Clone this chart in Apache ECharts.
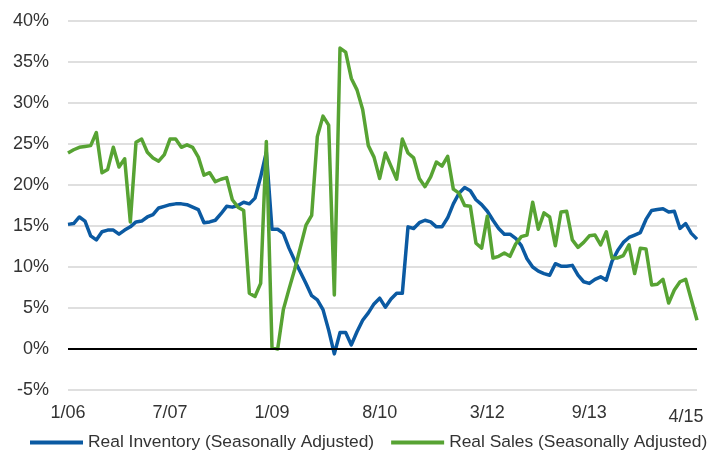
<!DOCTYPE html>
<html>
<head>
<meta charset="utf-8">
<script src="https://cdn.jsdelivr.net/npm/echarts@6/dist/echarts.min.js"></script>
<style>
  html, body { margin: 0; padding: 0; background: #fff; }
  #chart { width: 722px; height: 468px; }
</style>
</head>
<body>
<div id="chart"></div>
<script>
// months from 1/06 to 4/15
var months = [];
for (var y = 2006; y <= 2015; y++) {
  for (var m = 1; m <= 12; m++) {
    if (y === 2015 && m > 4) break;
    months.push(m + "/" + String(y).slice(2));
  }
}

var shownLabels = ["1/06", "7/07", "1/09", "8/10", "3/12", "9/13", "4/15"];

var inventory = [
  15.2, 15.3, 16.1, 15.6, 13.8, 13.3, 14.3, 14.5, 14.5, 14.0, 14.5, 14.9,
  15.5, 15.6, 16.1, 16.4, 17.2, 17.4, 17.6, 17.7, 17.7, 17.6, 17.3, 17.0,
  15.4, 15.5, 15.7, 16.5, 17.4, 17.3, 17.5, 17.9, 17.7, 18.4, 21.0, 24.0,
  14.6, 14.6, 14.1, 12.3, 10.8, 9.4, 8.0, 6.5, 6.0, 4.8, 2.3, -0.6,
  2.0, 2.0, 0.5, 2.1, 3.5, 4.4, 5.5, 6.2, 5.1, 6.1, 6.8, 6.8,
  14.9, 14.7, 15.4, 15.7, 15.5, 14.9, 14.9, 16.0, 17.7, 19.0, 19.7, 19.3,
  18.2, 17.6, 16.8, 15.7, 14.7, 14.0, 14.0, 13.5, 12.6, 11.0, 10.0, 9.5,
  9.2, 9.0, 10.4, 10.1, 10.1, 10.2, 9.0, 8.2, 8.0, 8.5, 8.8, 8.4,
  10.7, 12.0, 13.0, 13.6, 13.9, 14.2, 15.8, 16.9, 17.0, 17.1, 16.7, 16.8,
  14.7, 15.3, 14.1, 13.4
];

var sales = [
  23.9, 24.3, 24.6, 24.7, 24.8, 26.4, 21.5, 21.9, 24.6, 22.2, 23.2, 15.5,
  25.2, 25.6, 24.0, 23.3, 22.9, 23.7, 25.6, 25.6, 24.6, 24.9, 24.6, 23.4,
  21.2, 21.5, 20.4, 20.7, 20.9, 18.2, 17.3, 16.9, 6.8, 6.4, 8.0, 25.3,
  0.2, 0.0, 4.8, 7.3, 9.7, 12.4, 15.1, 16.3, 25.9, 28.4, 27.3, 6.6,
  36.7, 36.2, 33.0, 31.6, 29.2, 24.8, 23.4, 20.8, 23.9, 22.3, 20.7, 25.6,
  23.9, 23.3, 20.8, 19.8, 21.0, 22.8, 22.3, 23.5, 19.5, 19.0, 17.5, 17.4,
  12.9, 12.3, 16.2, 11.1, 11.3, 11.7, 11.3, 12.8, 13.7, 13.9, 17.9, 14.6,
  16.6, 16.1, 12.6, 16.7, 16.8, 13.3, 12.4, 13.0, 13.8, 13.9, 12.7, 14.3,
  11.1, 11.1, 11.4, 12.7, 9.2, 12.3, 12.2, 7.8, 7.9, 8.5, 5.6, 7.2,
  8.2, 8.5, 6.0, 3.5
];

var seriesNames = ["Real Inventory (Seasonally Adjusted)", "Real Sales (Seasonally Adjusted)"];
var colors = ["#0b5aa2", "#57a333"];
var FONT = "'Liberation Sans', Arial, sans-serif";

var chart = echarts.init(document.getElementById("chart"));

var option = {
  animation: false,
  color: colors,
  textStyle: { fontFamily: FONT },
  grid: { left: 68, right: 25, top: 21, bottom: 78 },
  legend: {
    data: seriesNames,
    left: 30,
    right: 0,
    top: 434,
    padding: 0,
    icon: "rect",
    itemWidth: 53,
    itemHeight: 4,
    itemGap: 17,
    textStyle: { fontFamily: FONT, fontSize: 17.4, color: "#333" }
  },
  xAxis: {
    type: "category",
    data: months,
    boundaryGap: false,
    axisLine: { show: false },
    axisTick: { show: false },
    axisLabel: {
      interval: function (idx, val) {
        return shownLabels.indexOf(val) >= 0;
      },
      formatter: function (val) {
        // last label sits a little lower and pulled inside, like the original
        return val === "4/15" ? "{end|" + val + "}" : val;
      },
      rich: {
        end: { padding: [4, 22, 0, 0], fontFamily: FONT, fontSize: 18, color: "#333" }
      },
      margin: 14,
      fontFamily: FONT,
      fontSize: 18,
      color: "#333"
    }
  },
  yAxis: {
    type: "value",
    min: -5,
    max: 40,
    interval: 5,
    axisLine: { show: false },
    axisTick: { show: false },
    axisLabel: {
      formatter: "{value}%",
      margin: 19,
      fontFamily: FONT,
      fontSize: 18,
      color: "#333"
    },
    splitLine: { lineStyle: { color: "#d4d4d4", width: 1.5 } }
  },
  series: [
    {
      name: seriesNames[0],
      type: "line",
      data: inventory,
      symbol: "none",
      lineStyle: { width: 3.5, join: "round" },
      markLine: {
        silent: true,
        symbol: "none",
        label: { show: false },
        lineStyle: { color: "#000", width: 2, type: "solid" },
        data: [{ yAxis: 0 }]
      },
      z: 3
    },
    {
      name: seriesNames[1],
      type: "line",
      data: sales,
      symbol: "none",
      lineStyle: { width: 3.5, join: "round" },
      z: 4
    }
  ]
};

chart.setOption(option);
</script>
</body>
</html>
